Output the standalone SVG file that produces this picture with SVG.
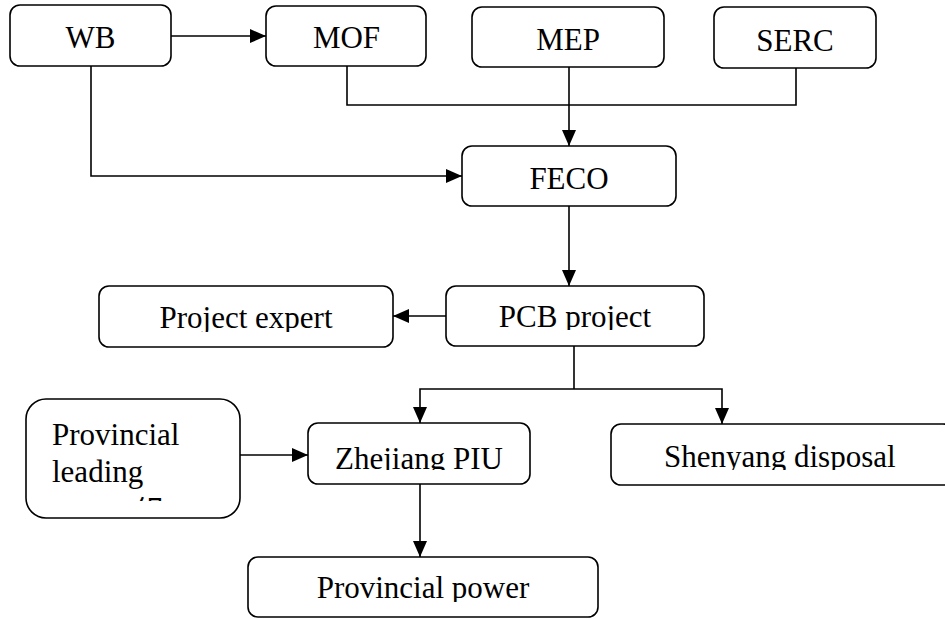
<svg xmlns="http://www.w3.org/2000/svg" width="945" height="619" viewBox="0 0 945 619">
<style>
.box{fill:#fff;stroke:#000;stroke-width:1.6}
.lbl{font-family:"Liberation Serif","Times New Roman",serif;font-size:31px;fill:#000}
.mid{text-anchor:middle}
.con{fill:none;stroke:#000;stroke-width:1.6}
</style>
<defs>
<marker id="ah" markerUnits="userSpaceOnUse" markerWidth="16" markerHeight="14" refX="16" refY="7" orient="auto">
<path d="M0,0 L16,7 L0,14 Z" fill="#000"/>
</marker>
<clipPath id="cPE"><rect x="99" y="286" width="294" height="46"/></clipPath>
<clipPath id="cPCB"><rect x="446" y="286" width="258" height="44"/></clipPath>
<clipPath id="cZJ"><rect x="308" y="423" width="222" height="47"/></clipPath>
<clipPath id="cSY"><rect x="611" y="424" width="342" height="46"/></clipPath>
<clipPath id="cPP"><rect x="248" y="557" width="350" height="45"/></clipPath>
<clipPath id="cPL"><rect x="26" y="399" width="214" height="102"/></clipPath>
</defs>

<g id="connectors">
<path class="con" d="M171,36 H266" marker-end="url(#ah)"/>
<path class="con" d="M91,66 V176 H462" marker-end="url(#ah)"/>
<path class="con" d="M347,66 V105 H796 V68"/>
<path class="con" d="M569,67 V146" marker-end="url(#ah)"/>
<path class="con" d="M569,206 V286" marker-end="url(#ah)"/>
<path class="con" d="M446,316 H393" marker-end="url(#ah)"/>
<path class="con" d="M574,346 V389"/>
<path class="con" d="M574,389 H420 V423" marker-end="url(#ah)"/>
<path class="con" d="M574,389 H722 V424" marker-end="url(#ah)"/>
<path class="con" d="M240,455 H308" marker-end="url(#ah)"/>
<path class="con" d="M420,484 V557" marker-end="url(#ah)"/>
</g>

<g id="WB">
<rect class="box" x="10" y="5" width="161" height="61" rx="10"/>
<text class="lbl mid" x="90.5" y="48">WB</text>
</g>
<g id="MOF">
<rect class="box" x="266" y="6" width="160" height="60" rx="10"/>
<text class="lbl mid" x="346.5" y="48">MOF</text>
</g>
<g id="MEP">
<rect class="box" x="472" y="7" width="192" height="60" rx="10"/>
<text class="lbl mid" x="568" y="50">MEP</text>
</g>
<g id="SERC">
<rect class="box" x="714" y="7" width="162" height="61" rx="10"/>
<text class="lbl mid" x="795" y="51">SERC</text>
</g>
<g id="FECO">
<rect class="box" x="462" y="146" width="214" height="60" rx="10"/>
<text class="lbl mid" x="569" y="189">FECO</text>
</g>
<g id="PCB">
<rect class="box" x="446" y="286" width="258" height="60" rx="10"/>
<text class="lbl mid" x="575" y="327" clip-path="url(#cPCB)">PCB project</text>
</g>
<g id="ProjectExpert">
<rect class="box" x="99" y="286" width="294" height="61" rx="10"/>
<text class="lbl mid" x="246" y="328" clip-path="url(#cPE)">Project expert</text>
</g>
<g id="ProvincialLeading">
<rect class="box" x="26" y="399" width="214" height="119" rx="20"/>
<g clip-path="url(#cPL)">
<text class="lbl" x="52" y="445">Provincial</text>
<text class="lbl" x="52" y="482">leading</text>
<text class="lbl" x="134" y="523" style="font-family:'Liberation Serif','Noto Sans CJK SC',serif">组</text>
</g>
</g>
<g id="Zhejiang">
<rect class="box" x="308" y="423" width="222" height="61" rx="10"/>
<text class="lbl mid" x="419" y="469" clip-path="url(#cZJ)">Zhejiang PIU</text>
</g>
<g id="Shenyang">
<rect class="box" x="611" y="424" width="342" height="61" rx="10"/>
<text class="lbl" x="664" y="467" clip-path="url(#cSY)">Shenyang disposal</text>
</g>
<g id="ProvincialPower">
<rect class="box" x="248" y="557" width="350" height="60" rx="10"/>
<text class="lbl mid" x="423" y="598" clip-path="url(#cPP)">Provincial power</text>
</g>
</svg>
